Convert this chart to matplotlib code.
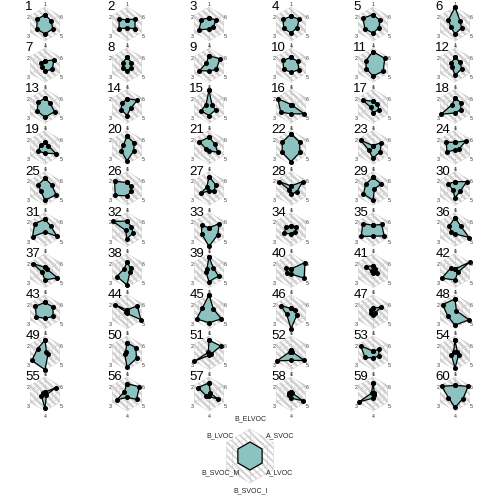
import numpy as np
import matplotlib
matplotlib.use("Agg")
import matplotlib.pyplot as plt

plt.rcParams['font.family'] = ['Liberation Sans', 'DejaVu Sans']

# axis names, in drawing order (1 = top, then counter-clockwise)
axis_names = ["B_ELVOC", "B_LVOC", "B_SVOC_M", "B_SVOC_I", "A_LVOC", "A_SVOC"]

# scaled values (0 = centre, 1 = outer ring) for the 60 factors
b_elvoc = [0.56, 0.26, 0.36, 0.46, 0.56, 1.0,
           0.25, 0.45, 0.55, 0.45, 0.8, 0.45,
           0.5, 0.45, 0.95, 0.1, 0.3, 0.5,
           0.3, 0.65, 0.6, 0.8, 0.1, 0.3,
           0.6, 0.35, 0.7, 0.15, 0.65, 0.4,
           0.6, 0.5, 0.1, 0.2, 0.25, 0.7,
           0.2, 0.5, 0.8, 0.1, 0.3, 0.1,
           0.55, 0.1, 1.0, 0.2, 0.2, 0.75,
           0.75, 0.6, 0.75, 0.15, 0.1, 0.75,
           0.1, 0.6, 0.65, 0.1, 0.65, 0.5]
b_lvoc = [0.54, 0.54, 0.52, 0.54, 0.68, 0.45,
          0.3, 0.3, 0.2, 0.55, 0.5, 0.25,
          0.45, 0.35, 0.2, 0.9, 0.7, 0.2,
          0.3, 0.25, 0.65, 0.6, 0.85, 0.6,
          0.45, 0.85, 0.15, 0.8, 0.5, 0.5,
          0.7, 0.95, 0.5, 0.35, 0.7, 0.4,
          0.8, 0.2, 0.15, 0.35, 0.45, 0.3,
          0.65, 0.85, 0.45, 0.7, 0.15, 0.85,
          0.5, 0.1, 0.05, 0.1, 0.85, 0.1,
          0.15, 0.2, 0.75, 0.15, 0.1, 0.9]
b_svoc_m = [0.56, 0.54, 0.68, 0.5, 0.56, 0.3,
            0.2, 0.3, 0.65, 0.5, 0.45, 0.2,
            0.55, 0.4, 0.55, 0.7, 0.15, 0.95,
            0.45, 0.4, 0.2, 0.6, 0.3, 0.55,
            0.3, 0.8, 0.55, 0.15, 0.65, 0.15,
            0.85, 0.1, 0.5, 0.45, 0.8, 0.25,
            0.2, 0.7, 0.2, 0.3, 0.1, 0.9,
            0.6, 0.05, 0.85, 0.3, 0.15, 0.5,
            0.9, 0.15, 1.0, 0.95, 0.55, 0.25,
            0.25, 0.7, 0.2, 0.15, 0.95, 0.45]
b_svoc_i = [0.6, 0.24, 0.3, 0.54, 0.54, 0.6,
            0.35, 0.35, 0.35, 0.42, 0.65, 0.6,
            0.65, 0.55, 0.55, 0.45, 0.4, 0.4,
            0.35, 0.8, 0.2, 0.85, 0.65, 0.15,
            0.7, 0.45, 0.15, 0.35, 0.7, 0.55,
            0.15, 0.55, 1.0, 0.25, 0.4, 0.25,
            0.55, 0.85, 0.65, 0.2, 0.15, 0.55,
            0.4, 0.1, 0.65, 1.0, 0.2, 0.8,
            1.0, 0.85, 0.15, 0.45, 0.3, 0.9,
            0.85, 0.2, 0.15, 0.25, 0.25, 0.8]
a_lvoc = [0.54, 0.54, 0.3, 0.42, 0.42, 0.45,
          0.5, 0.3, 0.5, 0.55, 0.7, 0.45,
          0.65, 0.25, 0.45, 0.9, 0.4, 0.4,
          0.75, 0.45, 0.6, 0.6, 0.5, 0.25,
          0.75, 0.3, 0.35, 0.4, 0.1, 0.35,
          0.8, 0.4, 0.6, 0.3, 0.75, 0.95,
          0.85, 0.2, 0.65, 0.9, 0.25, 0.2,
          0.55, 0.95, 0.85, 0.4, 0.15, 0.95,
          0.2, 0.65, 0.15, 0.9, 0.4, 0.25,
          0.1, 0.65, 0.6, 0.8, 0.1, 0.55]
a_svoc = [0.4, 0.56, 0.48, 0.56, 0.46, 0.35,
          0.6, 0.3, 0.75, 0.45, 0.8, 0.35,
          0.35, 0.7, 0.2, 0.1, 0.3, 0.4,
          0.2, 0.5, 0.4, 0.6, 0.55, 0.75,
          0.45, 0.25, 0.45, 0.8, 0.55, 0.8,
          0.4, 0.3, 0.7, 0.35, 0.6, 0.4,
          0.15, 0.25, 0.3, 0.95, 0.15, 1.0,
          0.55, 0.7, 0.3, 0.25, 0.55, 0.1,
          0.1, 0.6, 0.8, 0.1, 0.4, 0.15,
          0.75, 0.85, 0.1, 0.1, 0.1, 0.9]
legend_vals = [0.52] * 6

FILL = "#8cc2c0"
GRID = "#b0b0b0"
STRIPE = "#d3d3d3"

angles = np.linspace(0, 2 * np.pi, 7)  # closed


def to_polar(x, y):
    # cartesian (y up) -> polar data coords of an axes rotated by pi/2
    return np.arctan2(y, x) - np.pi / 2, np.hypot(x, y)


def draw_background(ax, stripe_lw=1.8, gap=0.42):
    ax.set_theta_offset(np.pi / 2)
    ax.set_ylim(0, 1.3)
    ax.axis("off")
    hexa = ax.fill(angles, np.ones(7), facecolor="none", edgecolor="none", zorder=1)[0]
    s = np.linspace(-1.3, 1.3, 40)
    for c in np.arange(-2.1, 2.11, gap):
        th, r = to_polar(c / 2 + s, c / 2 - s)
        ln, = ax.plot(th, r, color=STRIPE, lw=stripe_lw, zorder=1, solid_capstyle="butt")
        ln.set_clip_path(hexa)
    for r in [0.25, 0.5, 0.75, 1.0]:
        ax.plot(angles, np.full(7, r), ls=(0, (1.5, 1.5)), color=GRID, lw=0.4, zorder=2)
    for a in angles[:-1]:
        ax.plot([a, a], [0, 1], ls=(0, (1.5, 1.5)), color=GRID, lw=0.4, zorder=2)


def draw_data(ax, vals, ms=2.6, lw=0.9):
    v = list(vals) + [vals[0]]
    ax.fill(angles, v, facecolor=FILL, edgecolor="black", lw=lw, zorder=3)
    if ms:
        ax.plot(angles, v, "o", color="black", ms=ms, zorder=4)


fig = plt.figure(figsize=(5, 5), dpi=100)
W = 500.0
size = 44.0
tick_dy = [0, -3, -3, -3, -3, -3]

for i in range(60):
    row, col = divmod(i, 6)
    cx = 45 + 82 * col
    cy = 24 + 41.1 * row
    ax = fig.add_axes([(cx - size / 2) / W, 1 - (cy + size / 2) / W, size / W, size / W],
                      projection="polar")
    draw_background(ax)
    vals = [b_elvoc[i], b_lvoc[i], b_svoc_m[i], b_svoc_i[i], a_lvoc[i], a_svoc[i]]
    draw_data(ax, vals)
    for k in range(6):
        ax.annotate(str(k + 1), xy=(angles[k], 1.13), xytext=(0, tick_dy[k]),
                    textcoords="offset pixels", fontsize=3.8, ha="center", va="center",
                    color="#333333", zorder=5)
    ax.text(0.05, 1.02, str(i + 1), transform=ax.transAxes, fontsize=9.5,
            ha="left", va="top", zorder=6)

# legend radar
lsize = 70.0
lcx, lcy = 250, 456
lax = fig.add_axes([(lcx - lsize / 2) / W, 1 - (lcy + lsize / 2) / W, lsize / W, lsize / W],
                   projection="polar")
draw_background(lax, stripe_lw=1.3, gap=0.25)
draw_data(lax, legend_vals, ms=0, lw=0.9)
label_dy = [3, 3, 0, 0, 0, 3]
for k, name in enumerate(axis_names):
    lax.annotate(name, xy=(angles[k], 1.28), xytext=(0, label_dy[k]), textcoords="offset pixels",
                 fontsize=5, ha="center", va="center", color="#222222")

fig.savefig("out.png", dpi=100)
